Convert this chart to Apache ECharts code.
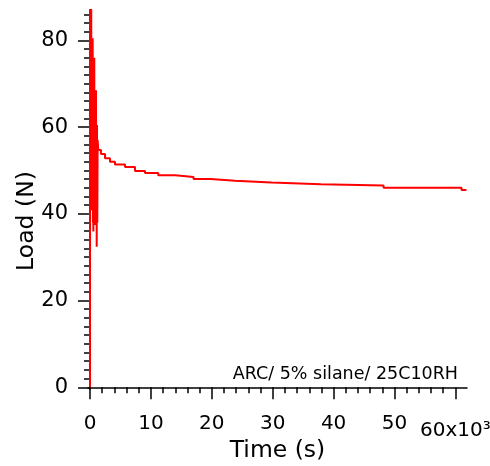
<!DOCTYPE html>
<html>
<head>
<meta charset="utf-8">
<script src="https://cdn.jsdelivr.net/npm/echarts@6/dist/echarts.min.js"></script>
<style>html,body{margin:0;padding:0;background:#fff}#c{width:490px;height:466px}</style>
</head>
<body>
<div id="c"></div>
<script>
// Time in thousands of seconds
var timeK = [0, 0, 0.05, 0.1, 0.15, 0.2, 0.25, 0.3, 0.33, 0.36, 0.4, 0.44, 0.48, 0.52, 0.55, 0.6, 0.64, 0.7, 0.74,
  0.8, 0.82, 0.88, 0.92, 0.98, 1.02, 1.08, 1.1, 1.15, 1.2, 1.25, 1.3,
  1.36, 1.8, 2.46, 3.28, 4.1, 5.75, 7.39, 9.03, 11.2, 14.0, 17.0, 19.8, 23.8, 29.8, 37.9, 48.2, 61.0, 61.8];
var load = [0, 92, 45, 92, 42, 88, 41, 80.5, 40.8, 80.5, 42, 80.5, 38, 76, 35.9, 76, 40, 76, 39,
  68.5, 37.4, 68.5, 39, 68.5, 40, 60.5, 32.4, 60.5, 38, 57, 56,
  54.7, 53.8, 52.8, 52.0, 51.4, 50.8, 49.9, 49.4, 48.9, 48.5, 48.0, 47.6, 47.2, 46.8, 46.5, 46.0, 45.5, 45.5];
var xMajor = [0, 10, 20, 30, 40, 50, 60];
var xMinor = [];
for (var i = 0; i <= 60; i += 2) xMinor.push(i);
var yMajor = [0, 20, 40, 60, 80];
var yMinor = [];
for (var j = 0; j <= 86; j += 2) yMinor.push(j);
var xTitle = 'Time (s)';
var yTitle = 'Load (N)';
var annotation = 'ARC/ 5% silane/ 25C10RH';

var pts = timeK.map(function (t, k) { return [t, load[k]]; });
var FONT = 'DejaVu Sans';
var X_MIN = -0.33, X_MAX = 61.9, Y_MIN = -0.4, Y_MAX = 87;
var axisLine = { show: true, lineStyle: { color: '#000', width: 1.5 } };

var chart = echarts.init(document.getElementById('c'), null, { renderer: 'canvas' });
chart.setOption({
  animation: false,
  backgroundColor: '#fff',
  grid: { left: 88, right: 23, top: 10, bottom: 77, containLabel: false, outerBoundsMode: 'none' },
  xAxis: [{
    type: 'value', min: X_MIN, max: X_MAX,
    axisLine: axisLine,
    axisTick: { show: true, inside: false, length: 12, customValues: xMajor, lineStyle: { color: '#000', width: 1.5 } },
    axisLabel: {
      customValues: xMajor, margin: 25, color: '#000', fontFamily: FONT, fontSize: 20,
      formatter: function (v) { return v === 60 ? '{e|60x10³}' : String(v); },
      rich: { e: { fontFamily: FONT, fontSize: 20, color: '#000', padding: [7, 0, 0, 0] } }
    },
    splitLine: { show: false },
    name: xTitle, nameLocation: 'middle', nameGap: 50, nameMoveOverlap: false,
    nameTextStyle: { fontFamily: FONT, fontSize: 23.5, color: '#000' }
  }, {
    type: 'value', min: X_MIN, max: X_MAX, position: 'bottom',
    axisLine: { show: false },
    axisTick: { show: true, inside: false, length: 6, customValues: xMinor, lineStyle: { color: '#000', width: 1.5 } },
    axisLabel: { show: false }, splitLine: { show: false }
  }],
  yAxis: [{
    type: 'value', min: Y_MIN, max: Y_MAX,
    axisLine: axisLine,
    axisTick: { show: true, inside: false, length: 12, customValues: yMajor, lineStyle: { color: '#000', width: 1.5 } },
    axisLabel: { customValues: yMajor, margin: 20, color: '#000', fontFamily: FONT, fontSize: 21 },
    splitLine: { show: false }
  }, {
    type: 'value', min: Y_MIN, max: Y_MAX, position: 'left',
    axisLine: { show: false },
    axisTick: { show: true, inside: false, length: 6, customValues: yMinor, lineStyle: { color: '#000', width: 1.5 } },
    axisLabel: { show: false }, splitLine: { show: false }
  }],
  graphic: [{
    type: 'text', x: 27, y: 221, rotation: Math.PI / 2,
    style: { text: yTitle, fontFamily: FONT, fontSize: 23.5, fill: '#000', align: 'center', verticalAlign: 'middle' }
  }, {
    type: 'text', right: 32, top: 365,
    style: { text: annotation, fontFamily: FONT, fontSize: 17.5, fill: '#000' }
  }],
  series: [{
    type: 'line', xAxisIndex: 0, yAxisIndex: 0, data: pts,
    step: 'end', showSymbol: false, clip: true,
    lineStyle: { color: '#ff0000', width: 2 }
  }]
});
</script>
</body>
</html>
